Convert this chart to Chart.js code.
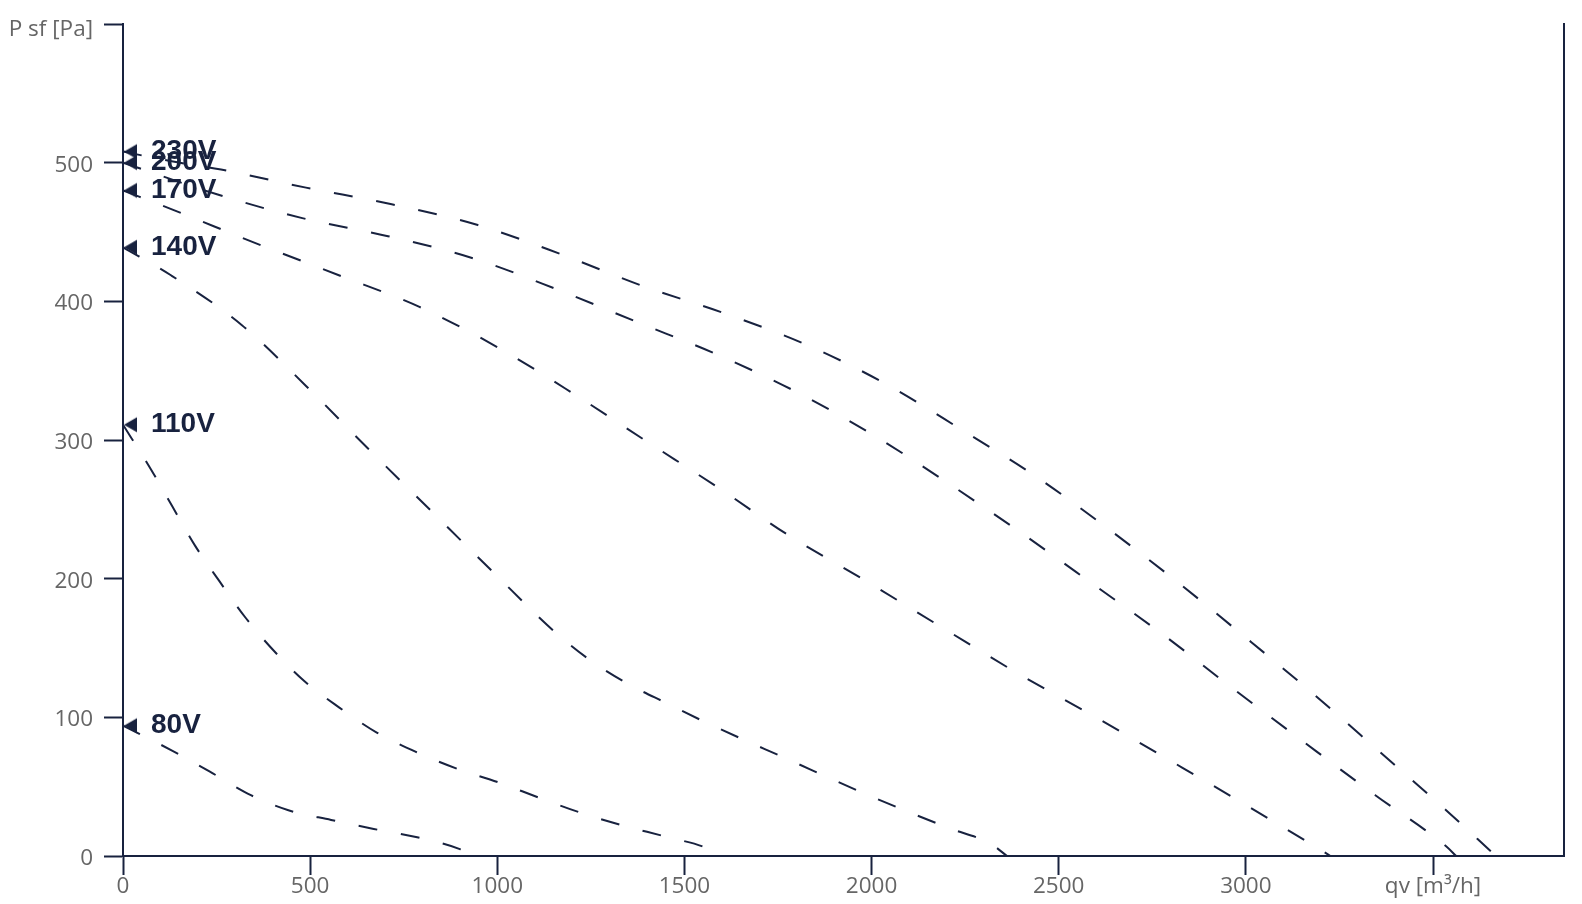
<!DOCTYPE html>
<html>
<head>
<meta charset="utf-8">
<script src="https://cdn.jsdelivr.net/npm/chart.js@4/dist/chart.umd.min.js"></script>
<style>
html,body{margin:0;padding:0;background:#ffffff;}
#wrap{width:1582px;height:904px;position:relative;}
</style>
</head>
<body>
<div id="wrap"><canvas id="c" width="1582" height="904"></canvas></div>
<script>
// ---- data ----
const seriesLabels = ['230V', '200V', '170V', '140V', '110V', '80V'];

const qv230  = [0, 130, 262, 489, 718, 948, 1170, 1389, 1611, 1832, 2041, 2243, 2443, 2632, 2820, 3002, 3180, 3358, 3535, 3660];
const psf230 = [508, 501, 495, 482, 470, 455, 434, 411, 391, 368, 340, 307, 273, 236, 197, 157, 117, 75, 33, 2];

const qv200  = [0, 253, 479, 708, 936, 1156, 1374, 1593, 1804, 2008, 2204, 2400, 2592, 2782, 2969, 3156, 3345, 3535, 3562];
const psf200 = [500, 477, 460, 447, 431, 409, 385, 361, 334, 303, 269, 233, 196, 159, 120, 82, 44, 7, 0];

const qv170  = [0, 134, 354, 575, 792, 1000, 1200, 1399, 1594, 1774, 1993, 2193, 2395, 2599, 2803, 3005, 3202, 3226];
const psf170 = [480, 466, 442, 419, 396, 367, 334, 299, 265, 232, 197, 164, 131, 100, 68, 36, 4, 0];

const qv140  = [0, 127, 317, 489, 654, 819, 988, 1156, 1249, 1350, 1454, 1560, 1774, 1990, 2208, 2317, 2362];
const psf140 = [439, 419, 383, 339, 294, 250, 205, 161, 141, 124, 110, 96, 70, 44, 20, 9, 0];

const qv110  = [0, 72, 132, 192, 258, 327, 403, 485, 578, 678, 783, 892, 1004, 1112, 1225, 1336, 1449, 1562, 1598];
const psf110 = [311, 280, 252, 224, 198, 172, 148, 126, 107, 89, 75, 63, 53, 42, 31, 22, 14, 5.5, 0];

const qv80   = [0, 131, 231, 333, 442, 556, 670, 786, 900, 938];
const psf80  = [94, 76, 61, 45, 33, 26, 19.5, 13.5, 5, 0];

// tick values; the last tick of each axis carries the axis title
const xTickValues = [0, 500, 1000, 1500, 2000, 2500, 3000, 3500];
const yTickValues = [0, 100, 200, 300, 400, 500, 600];
const xTickTitle = 'qv [m³/h]';
const yTickTitle = 'P sf [Pa]';
const xMax = 3850;
const yMax = 600;

// ---- styling ----
const NAVY = '#18223f';
const GREY = '#666666';
const FONT_FAMILY = '"Open Sans", "Noto Sans", sans-serif';
const TICK_FONT = {family: FONT_FAMILY, size: 22.5};

function makeMarker() {
  const c = document.createElement('canvas');
  c.width = 32; c.height = 18;
  const g = c.getContext('2d');
  g.fillStyle = NAVY;
  g.beginPath();
  g.moveTo(17, 9);
  g.lineTo(30, 1.5);
  g.lineTo(30, 16.5);
  g.closePath();
  g.fill();
  return c;
}
const marker = makeMarker();

const xs = [qv230, qv200, qv170, qv140, qv110, qv80];
const ys = [psf230, psf200, psf170, psf140, psf110, psf80];

const datasets = seriesLabels.map((lab, i) => ({
  label: lab,
  data: xs[i].map((x, j) => ({x: x, y: ys[i][j]})),
  borderColor: NAVY,
  backgroundColor: NAVY,
  borderWidth: 2,
  borderDash: [19, 24],
  fill: false,
  cubicInterpolationMode: 'monotone',
  pointStyle: marker,
  pointRadius: (ctx) => ctx.dataIndex === 0 ? 8 : 0,
  pointHoverRadius: 0,
  pointHitRadius: 0
}));

const labelPlugin = {
  id: 'seriesLabels',
  afterDatasetsDraw(chart) {
    const ctx = chart.ctx;
    ctx.save();
    ctx.font = 'bold 28px "Liberation Sans", Arial, sans-serif';
    ctx.fillStyle = NAVY;
    ctx.textAlign = 'left';
    ctx.textBaseline = 'middle';
    chart.data.datasets.forEach((ds, i) => {
      const p = chart.getDatasetMeta(i).data[0];
      ctx.fillText(ds.label, p.x + 28, p.y);
    });
    ctx.restore();
  }
};

const lastY = yTickValues[yTickValues.length - 1];

new Chart(document.getElementById('c'), {
  type: 'line',
  data: {datasets: datasets},
  plugins: [labelPlugin],
  options: {
    responsive: false,
    devicePixelRatio: 1,
    animation: false,
    layout: {padding: {top: 24, right: 18, left: 0, bottom: 0}},
    plugins: {legend: {display: false}, tooltip: {enabled: false}},
    scales: {
      x: {
        type: 'linear',
        min: 0,
        max: xMax,
        afterBuildTicks: (s) => { s.ticks = xTickValues.map(v => ({value: v})); },
        afterFit: (s) => { s.height = 48; },
        ticks: {
          autoSkip: false,
          maxRotation: 0,
          padding: -2,
          color: GREY,
          font: TICK_FONT,
          callback: (v) => v === xTickValues[xTickValues.length - 1] ? xTickTitle : String(v)
        },
        grid: {drawOnChartArea: false, drawTicks: true, tickLength: 19, tickWidth: 2, tickColor: NAVY},
        border: {display: true, color: NAVY, width: 2}
      },
      y: {
        type: 'linear',
        position: 'left',
        min: 0,
        max: yMax,
        afterBuildTicks: (s) => { s.ticks = yTickValues.map(v => ({value: v})); },
        afterFit: (s) => { s.width = 123; },
        ticks: {
          autoSkip: false,
          padding: 11,
          labelOffset: 2.5,
          color: GREY,
          font: (ctx) => (ctx.tick && ctx.tick.value === lastY)
            ? {family: FONT_FAMILY, size: 22.5, lineHeight: '6px'}
            : {family: FONT_FAMILY, size: 22.5, lineHeight: '28px'},
          callback: (v) => v === lastY ? ['', yTickTitle] : String(v)
        },
        grid: {drawOnChartArea: false, drawTicks: true, tickLength: 19, tickWidth: 2, tickColor: NAVY},
        border: {display: true, color: NAVY, width: 2}
      },
      y2: {
        type: 'linear',
        position: 'right',
        min: 0,
        max: yMax,
        afterFit: (s) => { s.width = 0; },
        ticks: {display: false},
        grid: {drawOnChartArea: false, drawTicks: false},
        border: {display: true, color: NAVY, width: 2}
      }
    }
  }
});
</script>
</body>
</html>
